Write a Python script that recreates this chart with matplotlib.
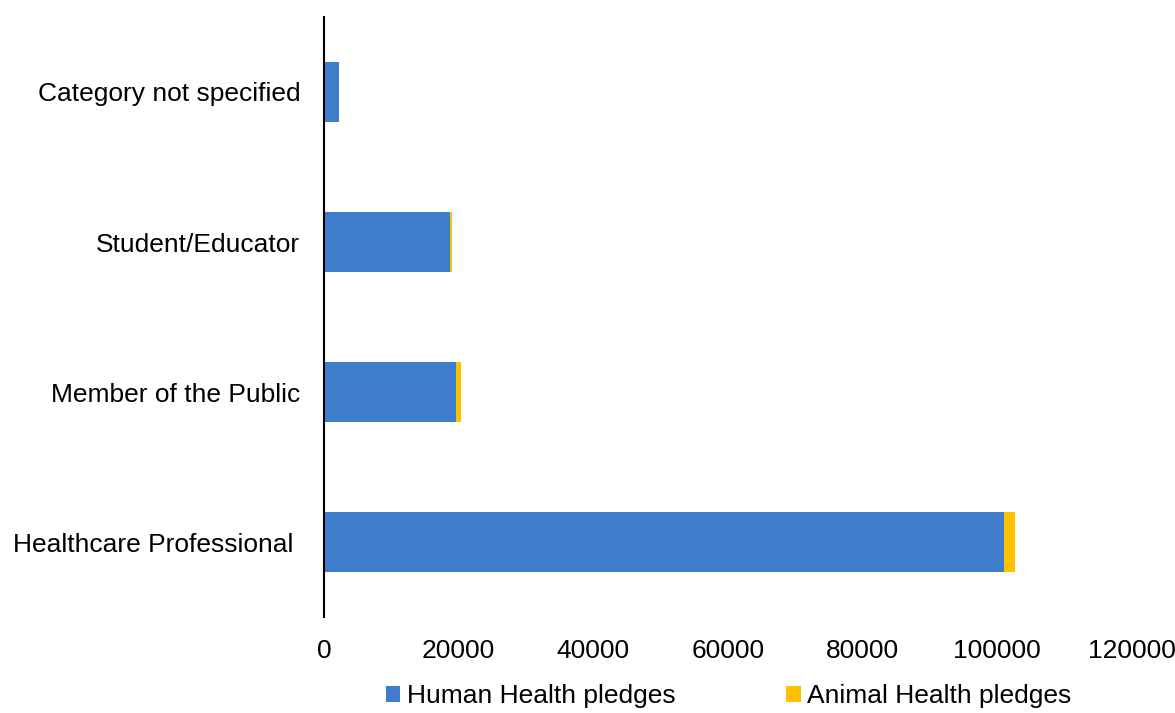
import numpy as np
import matplotlib.pyplot as plt

plt.rcParams['font.family'] = ['Liberation Sans', 'DejaVu Sans']

categories = ['Healthcare Professional ', 'Member of the Public', 'Student/Educator', 'Category not specified']
human = [100950, 19550, 18700, 2200]
animal = [1630, 790, 300, 0]

blue = '#3E7DCC'
yellow = '#FFC000'

fig = plt.figure(figsize=(11.75, 7.13), dpi=100)
ax = fig.add_axes([324 / 1175, 1 - 617 / 713, (1132 - 324) / 1175, 600 / 713])

y = np.arange(len(categories))
ax.barh(y, human, height=0.4, color=blue, label='Human Health pledges')
ax.barh(y, animal, left=human, height=0.4, color=yellow, label='Animal Health pledges')

ax.set_xlim(0, 120000)
ax.set_ylim(-0.5, 3.5)
ax.set_xticks(np.arange(0, 120001, 20000))
ax.set_yticks(y)
ax.set_yticklabels(categories)

for side in ['top', 'right', 'bottom']:
    ax.spines[side].set_visible(False)
ax.spines['left'].set_linewidth(1.5)
ax.spines['left'].set_color('black')

ax.tick_params(axis='x', length=0, pad=16, labelsize=19)
ax.tick_params(axis='y', length=0, pad=17, labelsize=19)

fig.legend(loc='center', bbox_to_anchor=(0.62, 0.024), ncol=2, frameon=False,
           fontsize=19, handlelength=0.55, handleheight=0.55,
           handletextpad=0.25, columnspacing=4.2)

fig.savefig('out.png', dpi=100)
